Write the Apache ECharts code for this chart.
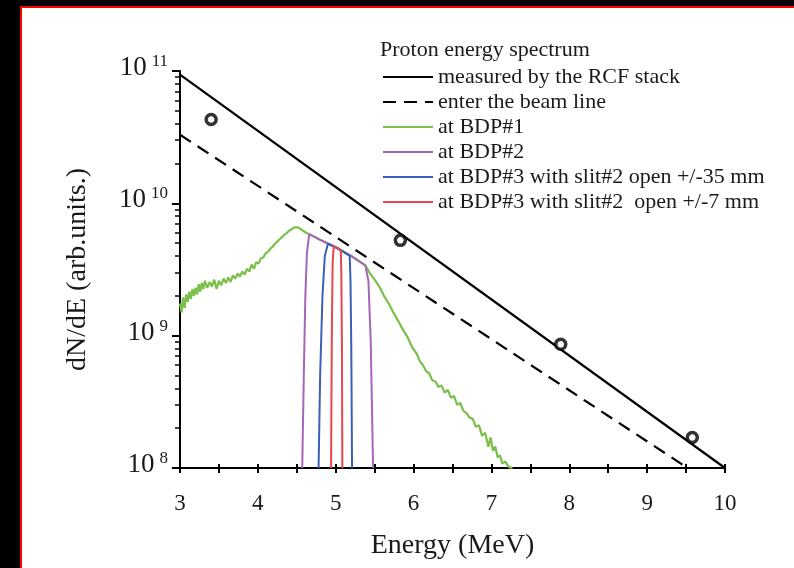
<!DOCTYPE html>
<html><head><meta charset="utf-8">
<script src="https://cdn.jsdelivr.net/npm/echarts@6/dist/echarts.min.js"></script>
<style>html,body{margin:0;padding:0;background:#000;}#c{width:794px;height:568px;}</style>
</head><body><div id="c"></div>
<script>
// ---- data ----
const xTicks = [3, 4, 5, 6, 7, 8, 9, 10];
const yTicks = [1e8, 1e9, 1e10, 1e11];
const yMinorMultipliers = [2, 3, 4, 5, 6, 7, 8, 9];
const legendNames = [
  'measured by the RCF stack',
  'enter the beam line',
  'at BDP#1',
  'at BDP#2',
  'at BDP#3 with slit#2 open +/-35 mm',
  'at BDP#3 with slit#2  open +/-7 mm'
];
const measuredLine = [[3, 9.4e10], [10, 1.0e8]];
const beamLine = [[3, 3.3e10], [9.52, 1.0e8]];
const measuredPoints = [[3.40, 4.3e10], [5.83, 5.25e9], [7.89, 8.6e8], [9.58, 1.7e8]];
const bdp1 = [
  [3.00,1.75e9],[3.02,1.50e9],[3.04,1.95e9],[3.06,1.62e9],[3.08,2.05e9],[3.10,1.80e9],
  [3.12,2.15e9],[3.14,1.90e9],[3.16,2.25e9],[3.18,2.00e9],[3.20,2.30e9],[3.22,2.05e9],
  [3.24,2.45e9],[3.26,2.15e9],[3.28,2.50e9],[3.30,2.25e9],[3.32,2.60e9],[3.35,2.30e9],
  [3.38,2.55e9],[3.41,2.35e9],[3.44,2.65e9],[3.47,2.25e9],[3.50,2.60e9],[3.53,2.40e9],
  [3.56,2.70e9],[3.59,2.50e9],[3.62,2.75e9],[3.65,2.55e9],[3.68,2.85e9],[3.71,2.70e9],
  [3.74,2.95e9],[3.77,2.80e9],[3.80,3.05e9],[3.83,2.90e9],[3.86,3.20e9],[3.89,3.05e9],
  [3.92,3.45e9],[3.95,3.20e9],[3.98,3.60e9],[4.01,3.50e9],[4.04,3.85e9],[4.07,3.90e9],
  [4.10,4.20e9],[4.13,4.30e9],[4.16,4.55e9],[4.19,4.70e9],[4.22,4.95e9],[4.25,5.15e9],
  [4.28,5.35e9],[4.31,5.55e9],[4.34,5.80e9],[4.37,5.95e9],[4.40,6.20e9],[4.43,6.35e9],
  [4.46,6.55e9],[4.49,6.60e9],[4.52,6.55e9],[4.55,6.40e9],[4.58,6.20e9],[4.62,6.00e9],
  [4.66,5.85e9],[4.80,5.30e9],[5.00,4.65e9],[5.20,4.00e9],[5.38,3.40e9],
  [5.44,2.95e9],[5.50,2.65e9],[5.56,2.35e9],[5.62,2.00e9],[5.68,1.75e9],[5.74,1.50e9],
  [5.80,1.30e9],[5.86,1.12e9],[5.92,9.8e8],[5.98,8.2e8],[6.04,7.3e8],[6.08,6.4e8],
  [6.12,6.0e8],[6.16,5.4e8],[6.20,5.2e8],[6.24,4.6e8],[6.28,4.5e8],[6.32,4.1e8],
  [6.36,4.2e8],[6.40,3.7e8],[6.44,3.9e8],[6.48,3.4e8],[6.52,3.5e8],[6.56,3.0e8],
  [6.60,3.1e8],[6.64,2.7e8],[6.68,2.6e8],[6.72,2.4e8],[6.76,2.35e8],[6.80,2.05e8],
  [6.84,2.1e8],[6.88,1.75e8],[6.92,1.85e8],[6.96,1.45e8],[6.99,1.7e8],[7.02,1.35e8],
  [7.05,1.45e8],[7.08,1.2e8],[7.11,1.25e8],[7.14,1.08e8],[7.18,1.12e8],[7.22,1.02e8],
  [7.27,1.0e8]
];
const bdp2 = [
  [4.57,1.0e8],[4.59,5e8],[4.61,2e9],[4.63,4.2e9],[4.66,5.85e9],[4.80,5.30e9],
  [5.00,4.65e9],[5.20,4.00e9],[5.38,3.40e9],[5.42,2.6e9],[5.45,9e8],[5.48,1.0e8]
];
const bdp3wide = [
  [4.78,1.0e8],[4.80,5e8],[4.83,2e9],[4.86,4e9],[4.90,4.95e9],[5.00,4.65e9],
  [5.10,4.30e9],[5.18,4.0e9],[5.19,2.6e9],[5.20,8e8],[5.21,1.0e8]
];
const bdp3narrow = [
  [4.94,1.0e8],[4.95,1e9],[4.96,3.5e9],[4.975,4.75e9],[5.02,4.6e9],[5.065,4.45e9],
  [5.072,3e9],[5.08,8e8],[5.085,1.0e8]
];

// ---- styles ----
const FONT = 'Liberation Serif';
const INK = '#1a1a1a';
const GREEN = '#7cbf4a', PURPLE = '#a466b8', BLUE = '#3b5fb8', RED = '#e5484d';

const yMinorTicks = [];
for (let i = 0; i < yTicks.length - 1; i++) {
  yMinorMultipliers.forEach(m => yMinorTicks.push(m * yTicks[i]));
}

const chart = echarts.init(document.getElementById('c'), null, {renderer: 'canvas'});
const option = {
  animation: false,
  backgroundColor: '#000',
  graphic: [{
    type: 'rect', z: -100, silent: true,
    shape: {x: 21, y: 7, width: 900, height: 700},
    style: {fill: '#fff', stroke: '#ff0000', lineWidth: 2}
  }],
  title: {
    text: 'Proton energy spectrum', left: 380, top: 39, padding: 0,
    textStyle: {fontFamily: FONT, fontSize: 22, fontWeight: 'normal', color: INK}
  },
  legend: {
    orient: 'vertical', left: 382, top: 66, padding: 0,
    itemWidth: 50, itemHeight: 14, itemGap: 3,
    data: legendNames,
    itemStyle: {opacity: 0},
    textStyle: {fontFamily: FONT, fontSize: 22, color: INK, lineHeight: 22}
  },
  grid: {left: 180, right: 69, top: 71, bottom: 100, containLabel: false},
  xAxis: [{
    type: 'value', min: 3, max: 10, interval: 1,
    name: 'Energy (MeV)', nameLocation: 'middle', nameGap: 64,
    nameTextStyle: {fontFamily: FONT, fontSize: 28, color: INK},
    axisLine: {lineStyle: {color: '#000', width: 2}},
    axisTick: {length: 5, lineStyle: {color: '#000', width: 2}, customValues: xTicks},
    minorTick: {show: true, splitNumber: 2, length: 5, lineStyle: {color: '#000', width: 2}},
    axisLabel: {fontFamily: FONT, fontSize: 23, color: INK, margin: 24, customValues: xTicks},
    splitLine: {show: false}
  }, {
    type: 'value', min: 3, max: 10, interval: 1, position: 'bottom',
    axisLine: {show: false}, axisLabel: {show: false}, splitLine: {show: false},
    axisTick: {inside: true, length: 4, lineStyle: {color: '#000', width: 2}},
    minorTick: {show: true, splitNumber: 2, length: 4, lineStyle: {color: '#000', width: 2}}
  }],
  yAxis: [{
    type: 'log', logBase: 10, min: 1e8, max: 1e11, position: 'left',
    name: 'dN/dE (arb.units.)', nameLocation: 'middle', nameGap: 88,
    nameTextStyle: {fontFamily: FONT, fontSize: 28, color: INK},
    axisLine: {lineStyle: {color: '#000', width: 2}},
    axisTick: {length: 8, lineStyle: {color: '#000', width: 2}, customValues: yTicks},
    axisLabel: {
      margin: 12, customValues: yTicks, padding: [0, 0, 6, 0],
      formatter: v => '{b|10}{s|' + Math.round(Math.log10(v)) + '}',
      rich: {
        b: {fontFamily: FONT, fontSize: 27, color: INK, lineHeight: 30},
        s: {fontFamily: FONT, fontSize: 17, color: INK, lineHeight: 17, verticalAlign: 'top', padding: [0, 0, 0, 5]}
      }
    },
    splitLine: {show: false}
  }, {
    type: 'log', logBase: 10, min: 1e8, max: 1e11, position: 'left', offset: 0,
    axisLine: {show: false}, axisLabel: {show: false}, splitLine: {show: false},
    axisTick: {length: 5, lineStyle: {color: '#000', width: 1.5}, customValues: yMinorTicks}
  }],
  series: [
    {name: legendNames[0], type: 'line', data: measuredLine, symbol: 'none',
      lineStyle: {color: '#000', width: 2.2}, itemStyle: {color: '#000'}},
    {name: legendNames[1], type: 'line', data: beamLine, symbol: 'none',
      lineStyle: {color: '#000', width: 2.2, type: [13, 8]}, itemStyle: {color: '#000'}},
    {name: legendNames[2], type: 'line', data: bdp1, symbol: 'none',
      lineStyle: {color: GREEN, width: 2.2}, itemStyle: {color: GREEN}},
    {name: legendNames[3], type: 'line', data: bdp2, symbol: 'none',
      lineStyle: {color: PURPLE, width: 2}, itemStyle: {color: PURPLE}},
    {name: legendNames[4], type: 'line', data: bdp3wide, symbol: 'none',
      lineStyle: {color: BLUE, width: 2}, itemStyle: {color: BLUE}},
    {name: legendNames[5], type: 'line', data: bdp3narrow, symbol: 'none',
      lineStyle: {color: RED, width: 2}, itemStyle: {color: RED}},
    {name: 'RCF data', type: 'scatter', data: measuredPoints, symbol: 'circle', symbolSize: 10,
      itemStyle: {color: '#fff', borderColor: '#000', borderWidth: 3.5}, z: 5}
  ]
};
chart.setOption(option);
</script></body></html>
